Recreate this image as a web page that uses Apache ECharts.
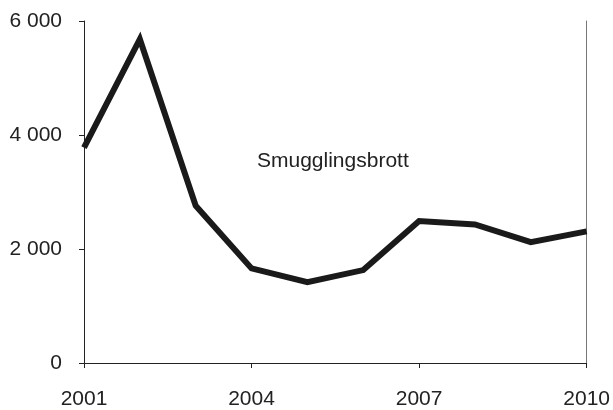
<!DOCTYPE html>
<html>
<head>
<meta charset="utf-8">
<script src="https://cdn.jsdelivr.net/npm/echarts@6/dist/echarts.min.js"></script>
<style>
  html, body { margin: 0; padding: 0; background: #fff; }
  #chart { width: 613px; height: 410px; }
</style>
</head>
<body>
<div id="chart"></div>
<script>
// år och antal brott
var years = ['2001', '2002', '2003', '2004', '2005', '2006', '2007', '2008', '2009', '2010'];
var smuggling = [3780, 5680, 2760, 1660, 1420, 1630, 2490, 2430, 2120, 2310];
var seriesName = 'Smugglingsbrott';

var myEchart = echarts.init(document.getElementById('chart'));

function spaceThousands(value) {
    return String(value).replace(/\B(?=(\d{3})+(?!\d))/g, ' ');
}

var labelFont = {
    color: '#222',
    fontSize: 21,
    fontFamily: 'Liberation Sans, Arial, sans-serif'
};

var option = {
    animation: false,
    grid: {
        left: 84,
        right: 24,
        top: 21,
        bottom: 46
    },
    xAxis: [{
        type: 'category',
        data: years,
        boundaryGap: false,
        axisLine: {
            lineStyle: { color: '#222', width: 1 }
        },
        axisTick: {
            interval: 2,
            length: 5,
            lineStyle: { color: '#222' }
        },
        axisLabel: Object.assign({
            interval: 2,
            margin: 26
        }, labelFont),
        splitLine: { show: false }
    }, {
        type: 'category',
        data: years,
        position: 'top',
        boundaryGap: false,
        axisLine: { lineStyle: { color: '#222', width: 1 } },
        axisTick: { show: false },
        axisLabel: { show: false }
    }],
    yAxis: [{
        type: 'value',
        min: 0,
        max: 6000,
        interval: 2000,
        axisLine: {
            show: true,
            lineStyle: { color: '#222', width: 1 }
        },
        axisTick: {
            show: true,
            length: 5,
            lineStyle: { color: '#222' }
        },
        axisLabel: Object.assign({
            margin: 22,
            formatter: spaceThousands
        }, labelFont),
        splitLine: { show: false }
    }, {
        type: 'value',
        min: 0,
        max: 6000,
        interval: 2000,
        position: 'right',
        axisLine: {
            show: true,
            lineStyle: { color: '#777', width: 1 }
        },
        axisTick: { show: false },
        axisLabel: { show: false },
        splitLine: { show: false }
    }],
    graphic: [{
        type: 'text',
        left: 257,
        top: 151,
        style: {
            text: seriesName,
            fill: '#222',
            fontSize: 21,
            fontFamily: 'Liberation Sans, Arial, sans-serif'
        }
    }],
    series: [{
        name: seriesName,
        type: 'line',
        data: smuggling,
        symbol: 'none',
        lineStyle: {
            color: '#1a1a1a',
            width: 6,
            join: 'miter'
        }
    }]
};

myEchart.setOption(option);
</script>
</body>
</html>
